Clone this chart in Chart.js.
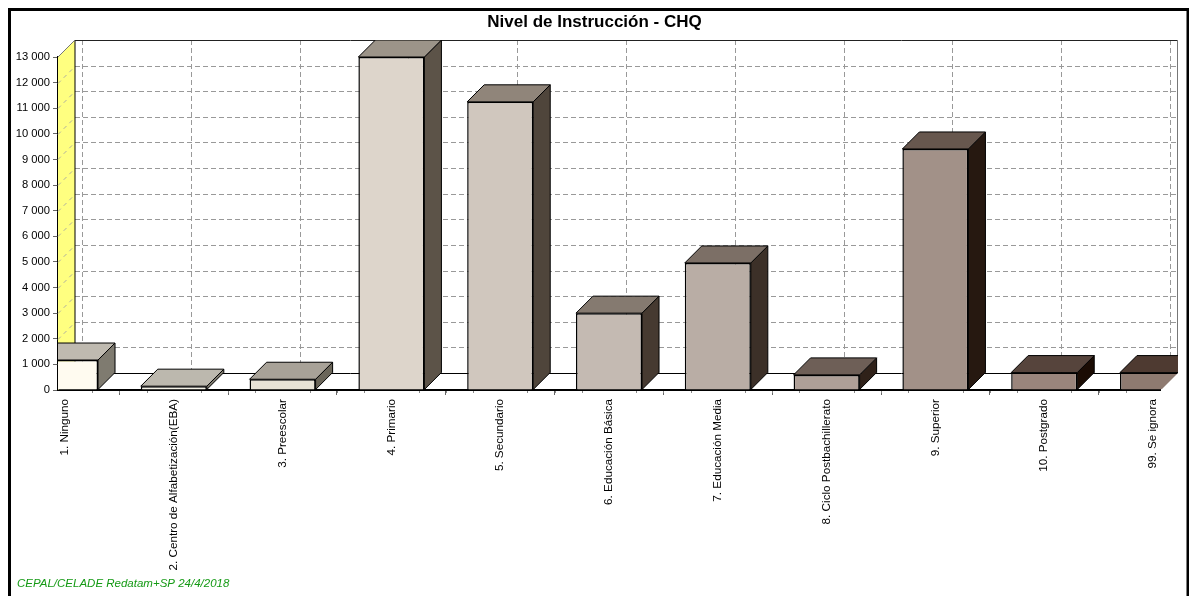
<!DOCTYPE html>
<html>
<head>
<meta charset="utf-8">
<title>Nivel de Instrucción - CHQ</title>
<script src="https://cdn.jsdelivr.net/npm/chart.js@4"></script>
<style>
    html, body { margin: 0; padding: 0; background: #fff; overflow: hidden; }
    canvas { display: block; }
</style>
</head>
<body>
<canvas id="chart" width="1189" height="596"></canvas>
<script>
const categories = [
    "1. Ninguno", "2. Centro de Alfabetización(EBA)", "3. Preescolar", "4. Primario",
    "5. Secundario", "6. Educación Básica", "7. Educación Media",
    "8. Ciclo Postbachillerato", "9. Superior", "10. Postgrado", "99. Se ignora"
];
const values = [1170, 150, 420, 13000, 11250, 3000, 4960, 590, 9410, 680, 680];
const yTicks = [0, 1000, 2000, 3000, 4000, 5000, 6000, 7000, 8000, 9000, 10000, 11000, 12000, 13000];
const barColors = ["#fffbf0", "#f4f1e6", "#e7e2d6", "#ddd5cb", "#d0c7be", "#c4bab2", "#b9ada5", "#ae9f97", "#a29188", "#9a857c", "#8e7a70"];
const topColors = ["#bfbab0", "#bcb8ae", "#a8a298", "#9c9489", "#90857a", "#857a70", "#7c6f66", "#6e5f57", "#67574e", "#56443c", "#4e3a31"];
const sideColors = ["#7f7b70", "#7c786d", "#6a6559", "#5c5348", "#4f453b", "#463a31", "#3c3028", "#2f2119", "#261810", "#1b0c04", "#1b0c04"];

const depth = 17;   // profundidad del efecto 3D

function polygon(ctx, pts, fill, stroke) {
    ctx.beginPath();
    pts.forEach((p, i) => i ? ctx.lineTo(p[0], p[1]) : ctx.moveTo(p[0], p[1]));
    ctx.closePath();
    if (fill) { ctx.fillStyle = fill; ctx.fill(); }
    if (stroke) { ctx.strokeStyle = stroke; ctx.lineWidth = 1; ctx.stroke(); }
}

function line(ctx, x1, y1, x2, y2, color, dash, width) {
    ctx.beginPath();
    ctx.setLineDash(dash || []);
    ctx.strokeStyle = color;
    ctx.lineWidth = width || 1;
    ctx.moveTo(x1, y1);
    ctx.lineTo(x2, y2);
    ctx.stroke();
    ctx.setLineDash([]);
}

// paredes, piso y rejilla detrás de las barras
const wallsPlugin = {
    id: 'walls',
    beforeDatasetsDraw(chart) {
        const { ctx, chartArea: a, scales: { x, y } } = chart;
        ctx.save();
        polygon(ctx, [[a.left, a.top], [a.left + depth, a.top - depth], [a.left + depth, a.bottom - depth], [a.left, a.bottom]], '#ffff80');
        yTicks.forEach(v => {
            const py = Math.round(y.getPixelForValue(v)) + 0.5;
            if (v > 0 && v < yTicks[yTicks.length - 1]) {
                line(ctx, a.left, py, a.left + depth, py - depth, '#b0b0a0', [4, 4]);
                line(ctx, a.left + depth, py - depth, a.right + depth, py - depth, '#999', [5, 3]);
            }
        });
        categories.forEach((c, i) => {
            const px = Math.round(x.getPixelForValue(i)) + depth + 0.5;
            line(ctx, px, a.top - depth, px, a.bottom - depth, '#999', [5, 3]);
        });
        line(ctx, a.left + depth, a.top - depth, a.left + depth, a.bottom - depth, '#000');
        line(ctx, a.left + depth, a.top - depth + 0.5, a.right + depth, a.top - depth + 0.5, '#222');
        line(ctx, a.right + depth + 0.5, a.top - depth, a.right + depth + 0.5, a.bottom - depth, '#777');
        line(ctx, a.left, a.top, a.left + depth, a.top - depth, '#777');
        line(ctx, a.left + depth, a.bottom - depth + 0.5, a.right + depth, a.bottom - depth + 0.5, '#000');
        ctx.restore();

        // las barras se recortan con la forma del piso y las paredes
        ctx.save();
        ctx.beginPath();
        ctx.moveTo(a.left, a.top - depth);
        ctx.lineTo(a.right + depth + 1, a.top - depth);
        ctx.lineTo(a.right + depth + 1, a.bottom - depth);
        ctx.lineTo(a.right, a.bottom + 1);
        ctx.lineTo(a.left, a.bottom + 1);
        ctx.closePath();
        ctx.clip();

        chart.getDatasetMeta(0).data.forEach((bar, i) => {
            const half = bar.width / 2;
            const l = bar.x - half, r = bar.x + half, t = bar.y, b = bar.base;
            polygon(ctx, [[r, t], [r + depth, t - depth], [r + depth, b - depth], [r, b]], sideColors[i], '#000');
            polygon(ctx, [[l, t], [l + depth, t - depth], [r + depth, t - depth], [r, t]], topColors[i], '#000');
        });
    },
    afterDatasetsDraw(chart) {
        const { ctx, scales: { x } } = chart;
        ctx.restore();
        // marcas menores del eje de categorías
        ctx.save();
        categories.forEach((c, i) => {
            [-0.5, -0.25, 0.25, 0.5].forEach(step => {
                const px = x.getPixelForValue(i + step);
                if (px > chart.chartArea.left && px < chart.chartArea.right) {
                    line(ctx, Math.round(px) + 0.5, chart.chartArea.bottom + 1, Math.round(px) + 0.5, chart.chartArea.bottom + 3, '#888');
                }
            });
        });
        ctx.restore();
    },
    afterDraw(chart) {
        const { ctx, width, height } = chart;
        ctx.save();
        ctx.strokeStyle = '#000';
        ctx.lineWidth = 3;
        ctx.beginPath();
        ctx.moveTo(9.5, height + 5);
        ctx.lineTo(9.5, 9.5);
        ctx.lineTo(width - 1, 9.5);
        ctx.lineTo(width - 1, height + 5);
        ctx.stroke();
        ctx.fillStyle = '#159a15';
        ctx.font = 'italic 11.5px "Liberation Sans"';
        ctx.textBaseline = 'middle';
        ctx.fillText("CEPAL/CELADE Redatam+SP 24/4/2018", 17, 584);
        ctx.restore();
    }
};

new Chart(document.getElementById("chart").getContext("2d"), {
    type: 'bar',
    data: {
        datasets: [{
            data: values.map((v, i) => ({ x: i, y: v })),
            backgroundColor: barColors,
            borderColor: '#000',
            borderWidth: 1.5,
            borderSkipped: 'bottom',
            barPercentage: 0.607,
            categoryPercentage: 1,
            clip: false
        }]
    },
    options: {
        responsive: false,
        animation: false,
        layout: { autoPadding: false, padding: { left: 0, right: 0, top: 8, bottom: 0 } },
        plugins: {
            legend: { display: false },
            tooltip: { enabled: false },
            title: {
                display: true,
                text: 'Nivel de Instrucción - CHQ',
                color: '#000',
                font: { family: '"Liberation Sans"', size: 17, weight: 'bold' },
                padding: { top: 4, bottom: 24.6 }
            }
        },
        scales: {
            x: {
                type: 'linear',
                offset: false,
                min: -0.0643,
                max: 10.0643,
                afterFit(scale) { scale.height = 206; },
                border: { color: '#000', width: 2 },
                grid: { drawOnChartArea: false, tickColor: '#666', tickLength: 5 },
                afterBuildTicks(scale) { scale.ticks = categories.map((c, i) => ({ value: i })); },
                ticks: {
                    autoSkip: false,
                    minRotation: 90,
                    maxRotation: 90,
                    padding: 4,
                    color: '#000',
                    font: { family: '"Liberation Sans"', size: 11.7 },
                    callback: (v) => categories[v]
                }
            },
            y: {
                min: 0,
                max: 13000,
                afterFit(scale) { scale.width = 58; },
                border: { color: '#000', width: 2 },
                grid: { drawOnChartArea: false, tickColor: '#666', tickLength: 5 },
                afterBuildTicks(scale) { scale.ticks = yTicks.map(v => ({ value: v })); },
                ticks: {
                    padding: 3,
                    color: '#000',
                    font: { family: '"Liberation Sans"', size: 11.2 },
                    callback: (v) => String(v).replace(/\B(?=(\d{3})+$)/g, ' ')
                }
            },
            // eje vacío a la derecha: deja sitio para la profundidad y centra el título
            yRight: {
                position: 'right',
                min: 0,
                max: 13000,
                afterFit(scale) { scale.width = 29; },
                border: { display: false },
                grid: { display: false },
                ticks: { display: false }
            }
        }
    },
    plugins: [wallsPlugin]
});
</script>
</body>
</html>
